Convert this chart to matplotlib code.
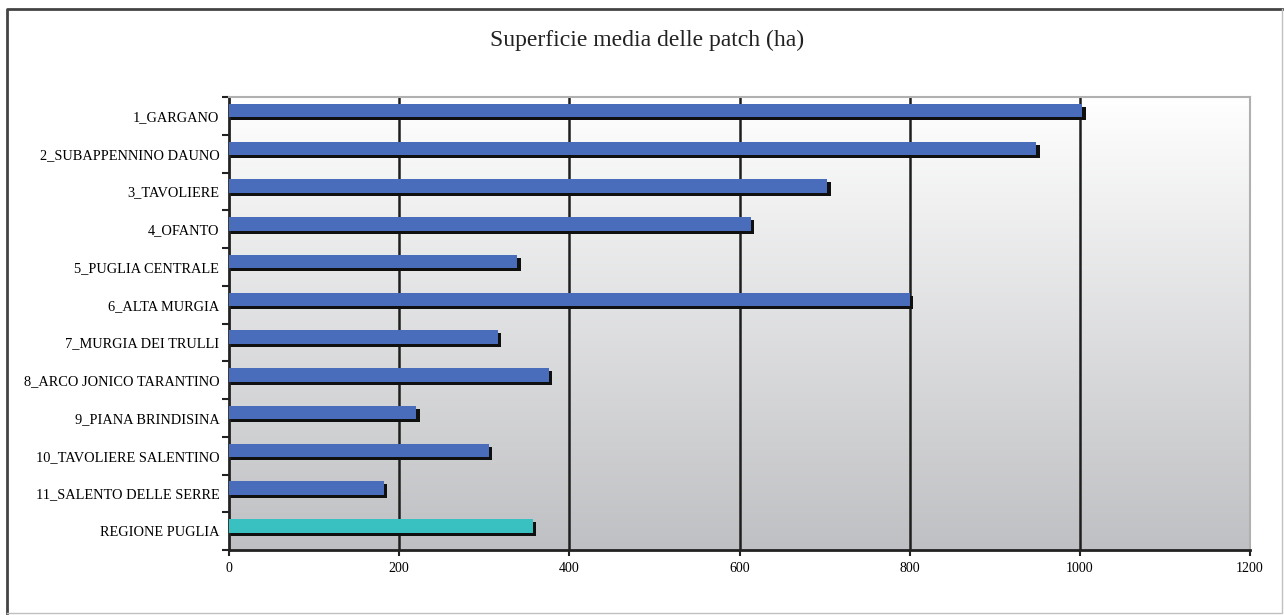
import matplotlib as mpl
mpl.use('Agg')
import matplotlib.pyplot as plt
from matplotlib.lines import Line2D
import numpy as np

# mean patch area (ha) per landscape unit
categories = ['1_GARGANO', '2_SUBAPPENNINO DAUNO', '3_TAVOLIERE', '4_OFANTO',
              '5_PUGLIA CENTRALE', '6_ALTA MURGIA', '7_MURGIA DEI TRULLI',
              '8_ARCO JONICO TARANTINO', '9_PIANA BRINDISINA',
              '10_TAVOLIERE SALENTINO', '11_SALENTO DELLE SERRE', 'REGIONE PUGLIA']
values = [1003, 949, 703, 613, 339, 800, 316, 376, 220, 305, 182, 357]
xticks = [0, 200, 400, 600, 800, 1000, 1200]

serif = ['Liberation Serif', 'DejaVu Serif']
blue = '#4a6dbb'
teal = '#39c0c0'

fig = plt.figure(figsize=(12.84, 6.15), dpi=100)
ax = fig.add_axes([229/1284, 1-550/615, 1021/1284, 453/615])

n = len(categories)
ypos = np.arange(n)

# grey vertical gradient behind the bars
grad = np.linspace(1.0, 0.0, 256).reshape(-1, 1)
cmap = mpl.colors.LinearSegmentedColormap.from_list('bg', ['#bfc0c3', '#ffffff'])
ax.imshow(grad, cmap=cmap, aspect='auto', extent=[0, 1200, n-0.5, -0.5],
          zorder=0, interpolation='bilinear')

# vertical gridlines
for x in xticks[1:-1]:
    ax.axvline(x, color='#1e1e1e', lw=1.8, zorder=1)

# bars with a dark drop shadow
colors = [blue]*(n-1) + [teal]
ax.barh(ypos - 0.06, np.array(values) + 4, height=0.36, color='#101010', zorder=2)
ax.barh(ypos - 0.14, values, height=0.36, color=colors, zorder=3)

ax.set_xlim(0, 1200)
ax.set_ylim(n-0.5, -0.5)

ax.set_xticks(xticks)
ax.set_xticklabels([str(x) for x in xticks], family=serif, fontsize=10)
ax.set_yticks(ypos)
ax.set_yticklabels(categories, family=serif, fontsize=10.4)
ax.set_yticks(np.arange(-0.5, n), minor=True)
ax.tick_params(axis='y', which='major', length=0, pad=7)
ax.tick_params(axis='y', which='minor', length=5, width=1.5, color='#222222')
ax.tick_params(axis='x', length=4, width=1.5, color='#222222', pad=5)

for side in ['left', 'bottom']:
    ax.spines[side].set_color('#222222')
    ax.spines[side].set_linewidth(2)
for side in ['top', 'right']:
    ax.spines[side].set_color('#b0b0b0')
    ax.spines[side].set_linewidth(1.5)

fig.text(647/1284, 1-40/615, 'Superficie media delle patch (ha)', family=serif,
         fontsize=17, ha='center', va='center', color='#222222')

# outer chart frame
x0, x1 = 7/1284, 1282/1284
y0, y1 = 1-613/615, 1-9/615
fig.add_artist(Line2D([x0, x0, x1], [y0, y1, y1], color='#444444', lw=2))
fig.add_artist(Line2D([x0, x1, x1], [y0, y0, y1], color='#c0c0c0', lw=1))

plt.savefig('out.png', dpi=100)
